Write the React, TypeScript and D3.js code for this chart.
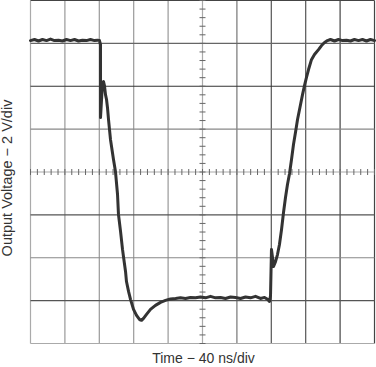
import React from "react";
import * as d3 from "d3";

// Time in ns (40 ns/div, 10 divisions), voltage in V (2 V/div, 8 divisions)
const timeNs: number[] = [
  0, 4.65, 9.3, 13.95, 18.6, 23.26, 27.9, 32.56, 37.2, 41.86, 46.5, 51.16, 55.8, 60.47, 65.1, 69.77, 74.4, 77.9, 80.2,
  81.4, 81.4, 82.6, 83.7, 84.9, 86.0, 87.2, 88.4, 89.5, 90.7, 93.0, 96.5, 98.8, 101.2, 102.3, 104.7, 107.0, 108.1,
  110.5, 111.6, 114.0, 116.3, 119.8, 123.3, 126.7, 129.1, 131.4, 134.9, 139.5, 145.3, 151.2, 157.0, 162.8, 168.6,
  174.4, 180.2, 186.0, 191.9, 197.7, 203.5, 209.3, 215.1, 220.9, 226.7, 232.6, 238.4, 244.2, 250.0, 255.8, 261.6,
  267.4, 272.1, 275.6, 277.9, 279.1, 280.2, 281.4, 282.6, 284.9, 287.2, 289.5, 291.9, 294.2, 296.5, 298.8, 301.2,
  303.5, 305.8, 308.1, 310.5, 314.0, 316.3, 318.6, 320.9, 323.3, 326.7, 330.2, 334.9, 338.4, 341.9, 345.3, 348.8,
  353.5, 358.1, 362.8, 367.4, 372.1, 376.7, 381.4, 386.0, 390.7, 395.3, 400,
];
const voltageV: number[] = [
  6.13, 6.18, 6.11, 6.18, 6.13, 6.2, 6.13, 6.15, 6.11, 6.18, 6.13, 6.18, 6.11, 6.15, 6.13, 6.18, 6.13, 6.15, 6.13,
  5.94, 2.54, 3.38, 4.13, 4.22, 4.03, 3.61, 3.38, 3.01, 2.45, 1.52, 0.58, 0.02, -1.05, -1.98, -2.77, -3.61, -3.94,
  -4.64, -5.11, -5.57, -5.94, -6.41, -6.69, -6.88, -6.92, -6.83, -6.64, -6.41, -6.22, -6.08, -5.99, -5.92, -5.9,
  -5.87, -5.9, -5.85, -5.87, -5.83, -5.87, -5.8, -5.87, -5.85, -5.9, -5.83, -5.85, -5.9, -5.83, -5.87, -5.8,
  -5.9, -5.85, -5.94, -6.04, -5.76, -3.61, -3.99, -4.41, -4.18, -3.85, -3.38, -2.68, -1.89, -1.19, -0.58, -0.07,
  0.58, 1.28, 1.84, 2.45, 3.15, 3.61, 4.03, 4.41, 4.78, 5.24, 5.48, 5.71, 5.9, 6.04, 6.13, 6.18,
  6.11, 6.18, 6.13, 6.15, 6.11, 6.18, 6.13, 6.18, 6.11, 6.18, 6.13,
];

const timeTicks: number[] = d3.range(0, 401, 40);
const voltTicks: number[] = d3.range(-8, 9, 2);
const timeMinor: number[] = d3.range(0, 401, 8);
const voltMinor: number[] = d3.range(-8, 8.01, 0.4);

const xLabel = "Time − 40 ns/div";
const yLabel = "Output Voltage − 2 V/div";

// grid line shades (scan-like variation)
const vShades = ["#aaa", "#999", "#999", "#999", "#999", "#aaa", "#777", "#555", "#555", "#444", "#444"];
const hShades = ["#aaa", "#555", "#888", "#555", "#aaa", "#888", "#333", "#666", "#444"];

export default function App() {
  const W = 376;
  const H = 367;
  const x = d3.scaleLinear().domain([0, 400]).range([30.5, 374.5]);
  const y = d3.scaleLinear().domain([-8, 8]).range([343.5, 0.5]);
  const pts = timeNs.map((t, i) => [t, voltageV[i]] as [number, number]);
  const line = d3
    .line<[number, number]>()
    .x((d) => x(d[0]))
    .y((d) => y(d[1]));

  return (
    <svg
      width={W}
      height={H}
      style={{ position: "absolute", left: 0, top: 0, background: "#fff" }}
      fontFamily="'Liberation Sans', Arial, Helvetica, sans-serif"
    >
      {timeTicks.map((t, i) => (
        <line key={"v" + t} x1={x(t)} x2={x(t)} y1={y(-8)} y2={y(8)} stroke={vShades[i]} strokeWidth={1.2} />
      ))}
      {voltTicks.map((v, i) => (
        <line key={"h" + v} x1={x(0)} x2={x(400)} y1={y(v)} y2={y(v)} stroke={hShades[i]} strokeWidth={1.2} />
      ))}
      {timeMinor.map((t) => (
        <line key={"tm" + t} x1={x(t)} x2={x(t)} y1={y(0) - 3} y2={y(0) + 3} stroke="#666" strokeWidth={1} />
      ))}
      {voltMinor.map((v) => (
        <line key={"vm" + v} x1={x(200) - 3} x2={x(200) + 3} y1={y(v)} y2={y(v)} stroke="#666" strokeWidth={1} />
      ))}
      <path d={line(pts) || ""} fill="none" stroke="#333" strokeWidth={3} strokeLinejoin="round" strokeLinecap="round" />
      <text x={203.5} y={363} textAnchor="middle" fontSize={14} fill="#333">
        {xLabel}
      </text>
      <text
        transform="translate(12,178) rotate(-90)"
        textAnchor="middle"
        fontSize={14.5}
        fill="#333"
      >
        {yLabel}
      </text>
    </svg>
  );
}
